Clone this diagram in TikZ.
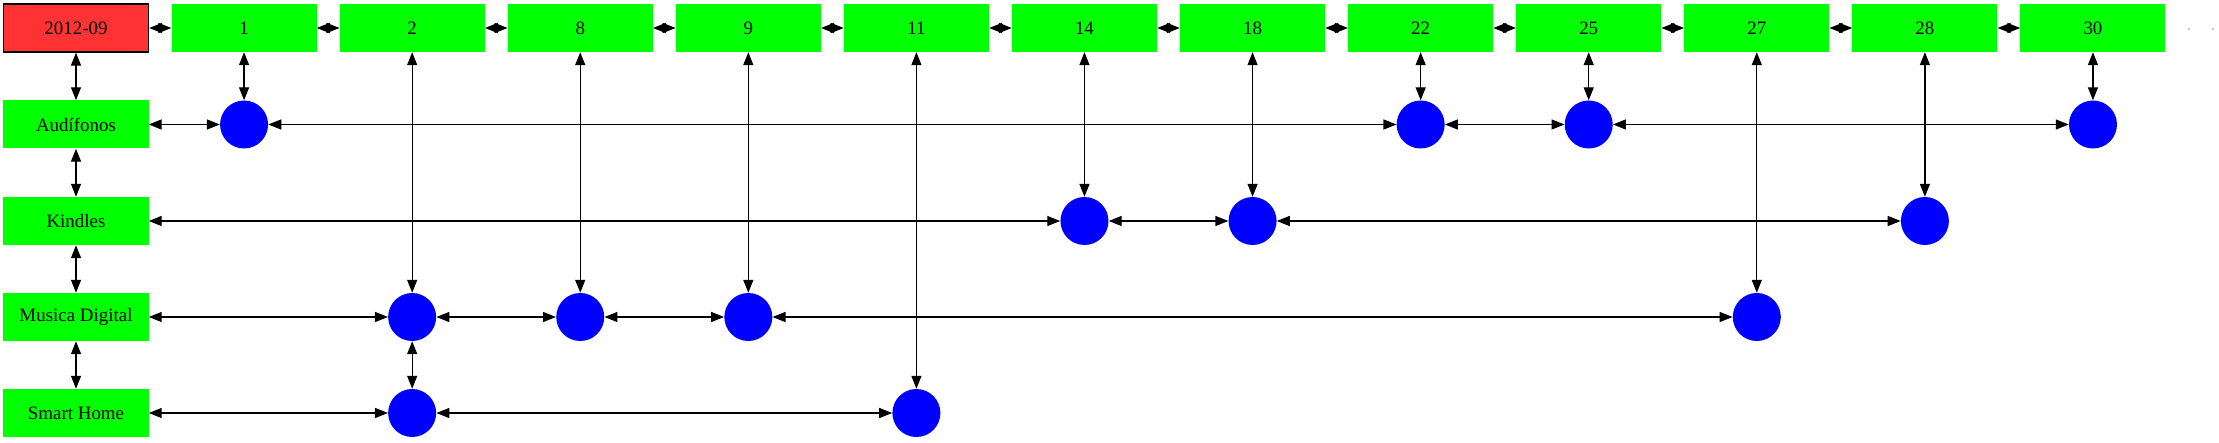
\documentclass[tikz,border=0pt]{standalone}
\usepackage{fontspec}
\setmainfont{Liberation Serif}
\usetikzlibrary{arrows.meta}
\definecolor{boxgreen}{HTML}{00FF00}
\definecolor{datered}{HTML}{FF3333}
\definecolor{dotblue}{HTML}{0000FF}
\tikzset{
  box/.style={fill=boxgreen,minimum width=145bp,minimum height=48bp,inner sep=0pt,font=\fontsize{19}{22}\selectfont},
  datebox/.style={box,fill=datered,draw=black,line width=1.3bp},
  dot/.style={circle,fill=dotblue,minimum size=48bp,inner sep=0pt},
  link/.style={line width=1.3bp,{Triangle[length=13bp,width=10bp]}-{Triangle[length=13bp,width=10bp]}}
}
\begin{document}
\begin{tikzpicture}[x=1bp,y=-1bp]
\useasboundingbox (0,0) rectangle (2219,443);

\node[datebox] (t0) at (76,28) {2012-09};
\foreach \lab [count=\i] in {1,2,8,9,11,14,18,22,25,27,28,30}
  \node[box] (t\lab) at ({76+168.08*\i},28) {\lab};
\foreach \a/\b in {0/1,1/2,2/8,8/9,9/11,11/14,14/18,18/22,22/25,25/27,27/28,28/30}
  \draw[link] (t\a) -- (t\b);
\fill (2189,29) circle (0.7);
\fill (2213,29) circle (0.7);

\node[box] (aud) at (76,124.5) {Audífonos};
\node[box] (kin) at (76,221) {Kindles};
\node[box] (mus) at (76,317) {Musica Digital};
\node[box] (sma) at (76,413) {Smart Home};
\draw[link] (t0) -- (aud);
\draw[link] (aud) -- (kin);
\draw[link] (kin) -- (mus);
\draw[link] (mus) -- (sma);

\node[dot] (a1) at (t1 |- aud) {};
\node[dot] (a22) at (t22 |- aud) {};
\node[dot] (a25) at (t25 |- aud) {};
\node[dot] (a30) at (t30 |- aud) {};
\node[dot] (k14) at (t14 |- kin) {};
\node[dot] (k18) at (t18 |- kin) {};
\node[dot] (k28) at (t28 |- kin) {};
\node[dot] (m2) at (t2 |- mus) {};
\node[dot] (m8) at (t8 |- mus) {};
\node[dot] (m9) at (t9 |- mus) {};
\node[dot] (m27) at (t27 |- mus) {};
\node[dot] (s2) at (t2 |- sma) {};
\node[dot] (s11) at (t11 |- sma) {};

\draw[link] (aud) -- (a1);
\draw[link] (a1) -- (a22);
\draw[link] (a22) -- (a25);
\draw[link] (a25) -- (a30);
\draw[link] (kin) -- (k14);
\draw[link] (k14) -- (k18);
\draw[link] (k18) -- (k28);
\draw[link] (mus) -- (m2);
\draw[link] (m2) -- (m8);
\draw[link] (m8) -- (m9);
\draw[link] (m9) -- (m27);
\draw[link] (sma) -- (s2);
\draw[link] (s2) -- (s11);

\draw[link] (t1) -- (a1);
\draw[link] (t2) -- (m2);
\draw[link] (m2) -- (s2);
\draw[link] (t8) -- (m8);
\draw[link] (t9) -- (m9);
\draw[link] (t11) -- (s11);
\draw[link] (t14) -- (k14);
\draw[link] (t18) -- (k18);
\draw[link] (t22) -- (a22);
\draw[link] (t25) -- (a25);
\draw[link] (t27) -- (m27);
\draw[link] (t28) -- (k28);
\draw[link] (t30) -- (a30);

\end{tikzpicture}
\end{document}
